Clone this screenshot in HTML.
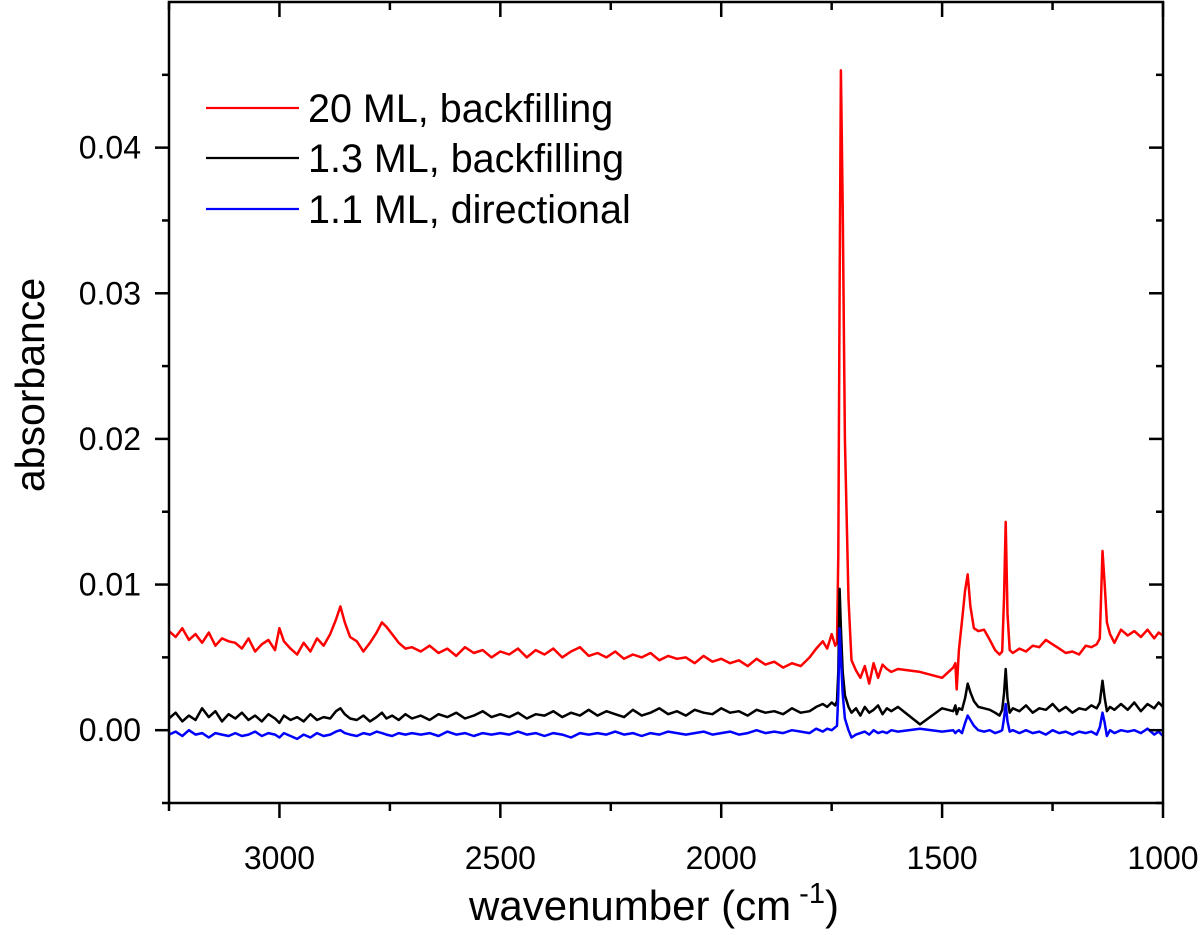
<!DOCTYPE html>
<html><head><meta charset="utf-8"><style>
html,body{margin:0;padding:0;background:#fff;}
svg{display:block;font-family:"Liberation Sans",Arial,sans-serif;}
</style></head><body>
<svg id="chart" width="1200" height="935" viewBox="0 0 1200 935" xmlns="http://www.w3.org/2000/svg">
<g id="series"></g>
<g id="axes"></g>
<rect x="169" y="2" width="994" height="801" fill="none" stroke="#000" stroke-width="2.5"/>
<g font-size="39.5">
<g><line x1="206" y1="108" x2="299" y2="108" stroke="#ff0000" stroke-width="2.2"/><text x="308" y="122">20 ML, backfilling</text></g>
<g><line x1="206" y1="158" x2="299" y2="158" stroke="#000" stroke-width="2.2"/><text x="308" y="172">1.3 ML, backfilling</text></g>
<g><line x1="206" y1="209" x2="299" y2="209" stroke="#0000ff" stroke-width="2.2"/><text x="308" y="223">1.1 ML, directional</text></g>
</g>
<text x="654" y="920" font-size="42" text-anchor="middle">wavenumber (cm<tspan dy="-17" font-size="29"> -1</tspan><tspan dy="17">)</tspan></text>
<text transform="translate(44,385) rotate(-90)" font-size="41" text-anchor="middle">absorbance</text>
</svg>
<script>
const wavenumbers=[3250,3235,3220,3205,3190,3175,3160,3145,3130,3115,
3100,3085,3070,3055,3040,3025,3010,3000,2990,2975,
2960,2945,2930,2915,2900,2885,2872,2862,2852,2840,
2825,2810,2795,2780,2768,2758,2745,2730,2715,2700,
2680,2660,2640,2620,2600,2580,2560,2540,2520,2500,
2480,2460,2440,2420,2400,2380,2360,2340,2320,2300,
2280,2260,2240,2220,2200,2180,2160,2140,2120,2100,
2080,2060,2040,2020,2000,1980,1960,1940,1920,1900,
1880,1860,1840,1820,1800,1785,1770,1760,1750,1742,
1738,1735,1732,1729,1725,1720,1712,1705,1695,1685,
1675,1665,1655,1645,1635,1625,1615,1600,1550,1500,
1475,1470,1467,1462,1455,1448,1442,1436,1428,1418,
1405,1392,1380,1370,1364,1360,1356,1352,1347,1340,
1325,1310,1295,1280,1265,1250,1235,1220,1205,1190,
1175,1162,1150,1143,1137,1132,1127,1120,1110,1095,
1080,1065,1050,1035,1020,1010,1000];
const red20ML=[6.8,6.4,7.0,6.2,6.6,6.0,6.7,5.8,6.3,6.1,
6.0,5.6,6.3,5.4,5.9,6.2,5.5,7.0,6.1,5.6,
5.2,6.0,5.4,6.3,5.8,6.6,7.6,8.5,7.4,6.4,
6.1,5.4,6.0,6.7,7.4,7.1,6.6,6.0,5.6,5.7,
5.4,5.8,5.3,5.6,5.1,5.7,5.3,5.5,5.0,5.4,
5.2,5.6,5.0,5.5,5.2,5.6,5.0,5.4,5.7,5.1,
5.3,5.0,5.4,4.9,5.2,5.0,5.3,4.8,5.1,4.9,
5.0,4.6,5.1,4.7,4.9,4.6,4.8,4.4,4.9,4.5,
4.7,4.3,4.6,4.4,5.0,5.6,6.1,5.6,6.6,5.8,
6.0,12,30,45.3,36,20,9,4.8,4.1,3.6,
4.4,3.2,4.6,3.6,4.5,4.2,4.0,4.2,4.0,3.6,
4.3,4.6,2.8,5.5,7.5,9.6,10.7,8.5,7.0,6.8,
6.9,6.2,5.5,5.2,5.4,9,14.3,8,5.5,5.3,
5.6,5.4,5.8,5.7,6.2,5.9,5.6,5.3,5.4,5.2,
5.8,5.7,5.9,6.3,12.3,10,7.4,6.6,6.0,6.9,
6.5,6.8,6.4,6.9,6.3,6.7,6.5];
const black13ML=[0.8,1.2,0.6,1.0,0.7,1.5,0.9,1.3,0.6,1.1,
0.8,1.2,0.7,1.0,0.6,1.1,0.8,0.5,1.0,0.7,
0.9,0.6,1.1,0.7,0.9,0.8,1.3,1.5,1.1,0.8,
0.7,1.0,0.6,0.9,1.2,0.8,1.0,0.7,1.1,0.8,
1.0,0.7,1.1,0.9,1.2,0.8,1.0,1.3,0.9,1.1,
0.9,1.2,0.8,1.1,1.0,1.3,0.9,1.2,1.0,1.4,
1.0,1.3,1.1,0.9,1.4,1.0,1.2,1.5,1.1,1.3,
1.0,1.4,1.2,1.1,1.5,1.2,1.3,1.0,1.4,1.2,
1.3,1.1,1.5,1.2,1.3,1.6,1.8,1.6,1.9,1.7,
2.0,4.0,9.7,7,4,2.4,1.6,1.2,1.5,1.0,
1.6,1.2,1.4,1.7,1.1,1.5,1.3,1.6,0.4,1.5,
1.3,1.7,1.1,1.5,1.4,2.2,3.2,2.6,2.0,1.6,
1.5,1.4,1.2,1.0,1.4,2.5,4.2,2.2,1.2,1.5,
1.3,1.7,1.2,1.5,1.4,1.8,1.3,1.6,1.2,1.5,
1.4,1.7,1.5,1.9,3.4,2.2,1.3,1.6,1.4,1.8,
1.4,1.9,1.3,1.8,1.5,1.9,1.6];
const blue11ML=[-0.3,-0.1,-0.4,0.0,-0.3,-0.2,-0.5,-0.2,-0.3,-0.4,
-0.2,-0.4,-0.3,-0.1,-0.4,-0.2,-0.3,-0.5,-0.2,-0.4,
-0.6,-0.3,-0.5,-0.2,-0.4,-0.3,-0.1,0.0,-0.2,-0.3,
-0.4,-0.2,-0.3,-0.1,-0.2,-0.3,-0.4,-0.2,-0.3,-0.2,
-0.3,-0.2,-0.4,-0.1,-0.3,-0.2,-0.4,-0.2,-0.3,-0.2,
-0.3,-0.1,-0.3,-0.2,-0.4,-0.2,-0.3,-0.5,-0.2,-0.3,
-0.2,-0.3,-0.1,-0.3,-0.2,-0.4,-0.2,-0.3,-0.1,-0.2,
-0.3,-0.2,-0.1,-0.3,-0.2,-0.1,-0.3,-0.2,0.0,-0.2,
-0.1,-0.2,0.0,-0.1,-0.2,0.1,-0.1,0.1,0.0,0.2,
0.3,2.5,7.0,5,2.5,0.8,0.0,-0.5,-0.3,-0.2,
-0.1,-0.3,0.0,-0.2,-0.1,-0.2,0.0,-0.1,0.1,-0.1,
0.0,-0.2,-0.1,0.0,-0.2,0.5,1.0,0.7,0.3,0.0,
-0.1,0.0,-0.2,-0.1,0.0,0.8,1.8,0.6,-0.1,0.0,
-0.2,0.0,-0.2,-0.1,-0.3,0.0,-0.2,-0.1,-0.3,-0.1,
-0.2,-0.1,-0.3,0.2,1.2,0.5,-0.4,0.0,-0.2,0.0,
-0.1,0.0,-0.2,0.1,-0.3,-0.1,-0.4];
const xTickLabels=["3000","2500","2000","1500","1000"];
const xTickValues=[3000,2500,2000,1500,1000];
const xMinorValues=[3250,2750,2250,1750,1250];
const yTickLabels=["0.00","0.01","0.02","0.03","0.04"];
const yTickValues=[0,0.01,0.02,0.03,0.04];
const yMinorValues=[-0.005,0.005,0.015,0.025,0.035,0.045];

const L=169,R=1163,T=2,B=803;
const XMAX=3250,XMIN=1000,YMIN=-0.005,YMAX=0.05;
function xs(w){return L+(XMAX-w)/(XMAX-XMIN)*(R-L);}
function ys(v){return B-(v-YMIN)/(YMAX-YMIN)*(B-T);}
const NS="http://www.w3.org/2000/svg";
const sg=document.getElementById('series'), ag=document.getElementById('axes');
function mk(tag,attrs,parent){const e=document.createElementNS(NS,tag);for(const k in attrs)e.setAttribute(k,attrs[k]);parent.appendChild(e);return e;}
function drawSeries(vals,color,name){
  const n=Math.min(vals.length,wavenumbers.length);let d='';
  for(let i=0;i<n;i++){d+=(i?'L':'M')+xs(wavenumbers[i]).toFixed(1)+','+ys(vals[i]/1000).toFixed(1);}
  const p=mk('path',{d:d,fill:'none',stroke:color,'stroke-width':2.5,'stroke-linejoin':'round'},sg);
  
  
}
drawSeries(red20ML,'#ff0000','series-20ml-backfilling');
drawSeries(black13ML,'#000000','series-1-3ml-backfilling');
drawSeries(blue11ML,'#0000ff','series-1-1ml-directional');
function tick(x1,y1,x2,y2,name){const t=mk('line',{x1:x1,y1:y1,x2:x2,y2:y2,stroke:'#000','stroke-width':2.5},ag);
  
  }
xTickValues.forEach((v,i)=>{const x=xs(v);tick(x,B,x,B+15,'x-major-tick');tick(x,T,x,T+15,'x-top-tick');
  const t=mk('text',{x:x,y:869,'font-size':32,'text-anchor':'middle'},ag);t.textContent=xTickLabels[i];
  
  });
xMinorValues.forEach(v=>{const x=xs(v);tick(x,B,x,B+8,'x-minor-tick');tick(x,T,x,T+8,'x-top-minor-tick');});
yTickValues.forEach((v,i)=>{const y=ys(v);tick(L-14,y,L,y,'y-major-tick');tick(R-14,y,R,y,'y-right-tick');
  const t=mk('text',{x:141,y:y+11,'font-size':32,'text-anchor':'end'},ag);t.textContent=yTickLabels[i];
  
  });
yMinorValues.forEach(v=>{const y=ys(v);tick(L-7,y,L,y,'y-minor-tick');tick(R-7,y,R,y,'y-right-minor-tick');});
</script>
</body></html>
